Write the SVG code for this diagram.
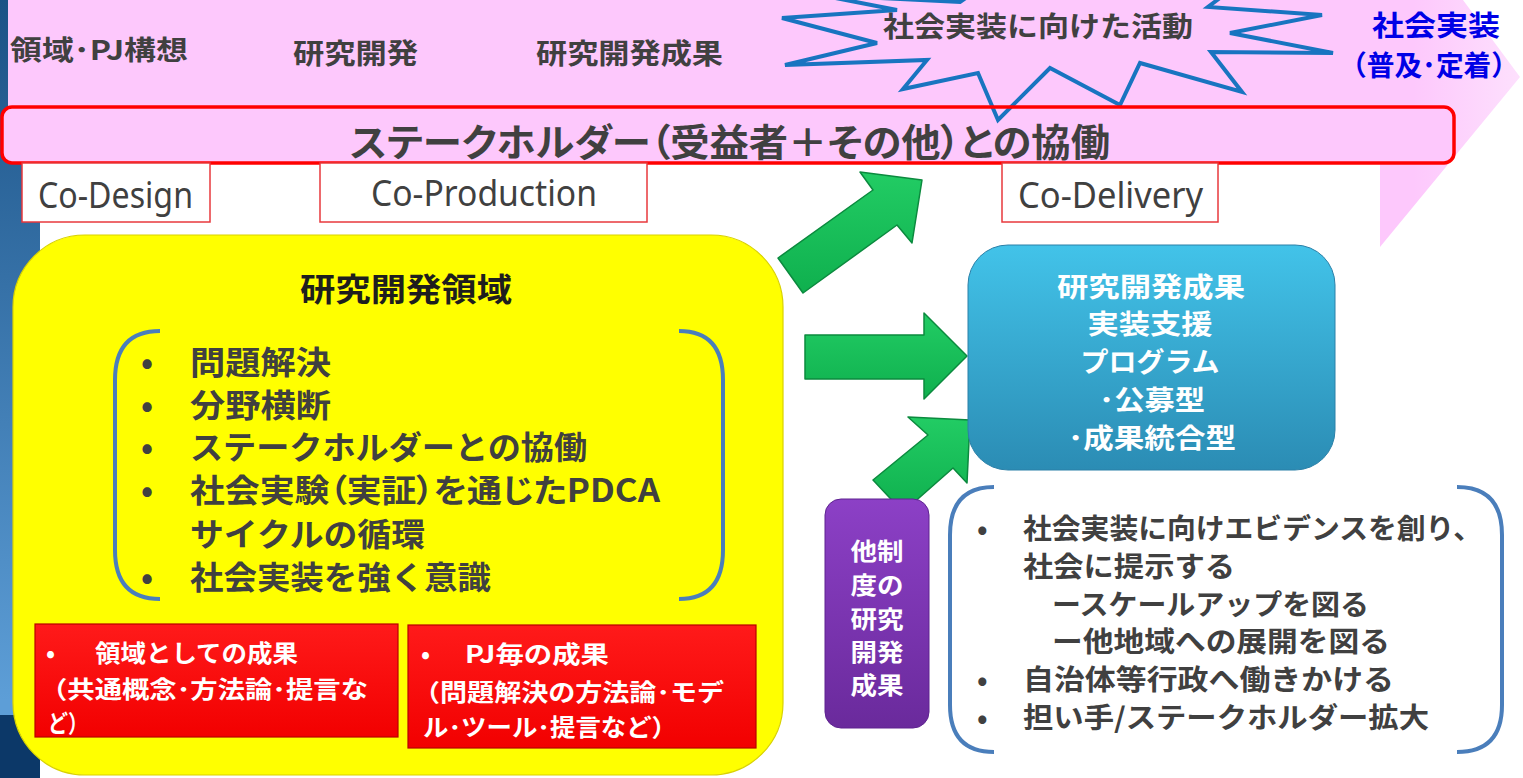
<svg xmlns="http://www.w3.org/2000/svg" width="1523" height="778" viewBox="0 0 1523 778">
<defs>
<linearGradient id="stripe" x1="0" y1="0" x2="0" y2="1">
<stop offset="0" stop-color="#1b5286"/>
<stop offset="0.9" stop-color="#5d9ed7"/>
</linearGradient>
<linearGradient id="blueBox" x1="0" y1="0" x2="0" y2="1">
<stop offset="0" stop-color="#42c3e9"/>
<stop offset="1" stop-color="#2b8cb4"/>
</linearGradient>
<linearGradient id="purple" x1="0" y1="0" x2="0" y2="1">
<stop offset="0" stop-color="#8c40c6"/>
<stop offset="1" stop-color="#6a2a9c"/>
</linearGradient>
<linearGradient id="green" x1="0" y1="0" x2="0" y2="1">
<stop offset="0" stop-color="#22cc64"/>
<stop offset="1" stop-color="#0fb04e"/>
</linearGradient>
<linearGradient id="red" x1="0" y1="0" x2="0" y2="1">
<stop offset="0" stop-color="#ff1a1a"/>
<stop offset="1" stop-color="#f20000"/>
</linearGradient>
<linearGradient id="pinkFade" x1="0" y1="0" x2="1" y2="0">
<stop offset="0" stop-color="#fdc8fc"/>
<stop offset="0.93" stop-color="#fdc8fc"/>
<stop offset="1" stop-color="#fde0fd"/>
</linearGradient>
<style>
.jp{font-family:"Noto Sans CJK JP","Noto Sans CJK SC",sans-serif;font-weight:bold;dominant-baseline:central}
.palt{font-feature-settings:"palt"}
.gray{fill:#404040}
.white{fill:#ffffff}
.co{font-family:"Noto Sans","Liberation Sans",sans-serif;font-size:36px;fill:#404040;dominant-baseline:central}
.cobox{fill:#ffffff;stroke:#e8383d;stroke-width:1.5}
.bracket{fill:none;stroke:#4a7ebb;stroke-width:4}
.arrow{fill:url(#green);stroke:#0b8a3e;stroke-width:1.5;stroke-linejoin:round}
.redbox{fill:url(#red);stroke:#b80000;stroke-width:1.2}
</style>
</defs>
<rect x="0" y="0" width="1523" height="778" fill="#ffffff"/>
<rect x="0" y="0" width="40" height="778" fill="url(#stripe)"/>
<rect x="0" y="715" width="40" height="63" fill="#0c3868"/>
<path d="M8,0 L1463,0 L1520,77 L1380,247 L1380,160 L8,160 Z" fill="url(#pinkFade)"/>
<g id="top-labels">
<text class="jp gray" x="10" y="48" font-size="27" textLength="178" lengthAdjust="spacingAndGlyphs">領域･PJ構想</text>
<text class="jp gray" x="293" y="52" font-size="28" textLength="125" lengthAdjust="spacingAndGlyphs">研究開発</text>
<text class="jp gray" x="536" y="52" font-size="28" textLength="187" lengthAdjust="spacingAndGlyphs">研究開発成果</text>
</g>
<g id="stakeholder-bar">
<rect x="2" y="107" width="1452" height="56" rx="10" fill="#fdc8fc"/>
</g>
<g id="starburst">
<polygon points="782,18 897,10 820,-5 960,2 1020,-40 1090,-8 1250,-25 1208,7 1322,15 1230,33 1333,53 1211,52 1242,92 1140,63 1120,105 1050,68 998,120 978,73 903,89 927,60 785,65 877,43" fill="#fdc8fc" stroke="#1874c0" stroke-width="4" stroke-linejoin="miter"/>
<text class="jp gray" x="883" y="25" font-size="28" textLength="310" lengthAdjust="spacingAndGlyphs">社会実装に向けた活動</text>
</g>
<g id="stakeholder-bar-front">
<rect x="2" y="107" width="1452" height="56" rx="10" fill="none" stroke="#ff0000" stroke-width="3.5"/>
<text class="jp gray palt" x="350" y="139" font-size="38" textLength="760" lengthAdjust="spacingAndGlyphs">ステークホルダー（受益者＋その他）との協働</text>
</g>
<g id="social-impl">
<text class="jp" fill="#0000e6" x="1372" y="24" font-size="28" textLength="128" lengthAdjust="spacingAndGlyphs">社会実装</text>
<text class="jp" fill="#0000e6" x="1339" y="64" font-size="28" textLength="180" lengthAdjust="spacingAndGlyphs">（普及･定着）</text>
</g>
<g id="co-design">
<rect class="cobox" x="22" y="163" width="188" height="59"/>
<text class="co" x="38" y="194" textLength="155" lengthAdjust="spacingAndGlyphs">Co-Design</text>
</g>
<g id="co-production">
<rect class="cobox" x="320" y="163" width="327" height="59"/>
<text class="co" x="371" y="192" textLength="226" lengthAdjust="spacingAndGlyphs">Co-Production</text>
</g>
<g id="co-delivery">
<rect class="cobox" x="1002" y="163" width="216" height="59"/>
<text class="co" x="1018" y="194" textLength="185" lengthAdjust="spacingAndGlyphs">Co-Delivery</text>
</g>
<g id="rd-domain">
<rect x="13" y="235" width="770" height="540" rx="72" fill="#ffff00" stroke="#d9d200" stroke-width="1.2"/>
<text class="jp" fill="#1e1e1e" x="300" y="287" font-size="32" textLength="212" lengthAdjust="spacingAndGlyphs">研究開発領域</text>
<path class="bracket" d="M160,331 Q115,331 115,380 L115,550 Q115,599 160,599"/>
<path class="bracket" d="M679,331 Q723,331 723,380 L723,550 Q723,599 679,599"/>
<g class="jp gray" font-size="32">
<text x="141" y="360">•</text>
<text x="190" y="360" textLength="141" lengthAdjust="spacingAndGlyphs">問題解決</text>
<text x="141" y="403">•</text>
<text x="190" y="403" textLength="141" lengthAdjust="spacingAndGlyphs">分野横断</text>
<text x="141" y="445">•</text>
<text x="190" y="445" textLength="397" lengthAdjust="spacingAndGlyphs">ステークホルダーとの協働</text>
<text x="141" y="488">•</text>
<text class="palt" x="190" y="488" textLength="470" lengthAdjust="spacingAndGlyphs">社会実験（実証）を通じたPDCA</text>
<text x="190" y="532" textLength="235" lengthAdjust="spacingAndGlyphs">サイクルの循環</text>
<text x="141" y="575">•</text>
<text x="190" y="575" textLength="301" lengthAdjust="spacingAndGlyphs">社会実装を強く意識</text>
</g>
</g>
<g id="domain-results">
<rect class="redbox" x="35" y="624" width="363" height="113"/>
<g class="jp white" font-size="24">
<text x="46" y="651">•</text>
<text x="95" y="651" textLength="203" lengthAdjust="spacingAndGlyphs">領域としての成果</text>
<text x="40" y="687" textLength="328" lengthAdjust="spacingAndGlyphs">（共通概念･方法論･提言な</text>
<text x="48" y="721" textLength="40" lengthAdjust="spacingAndGlyphs">ど）</text>
</g>
</g>
<g id="pj-results">
<rect class="redbox" x="408" y="625" width="348" height="123"/>
<g class="jp white" font-size="24">
<text x="421" y="652">•</text>
<text x="465" y="652" textLength="144" lengthAdjust="spacingAndGlyphs">PJ毎の成果</text>
<text x="413" y="690" textLength="311" lengthAdjust="spacingAndGlyphs">（問題解決の方法論･モデ</text>
<text x="423" y="725" textLength="254" lengthAdjust="spacingAndGlyphs">ル･ツール･提言など）</text>
</g>
</g>
<g id="connectors">
<polygon class="arrow" points="778,258 873,190 860,172 922,180 912,243 897,225 803,293"/>
<polygon class="arrow" points="805,335 924,335 924,313 967,356 924,399 924,379 805,379"/>
<polygon class="arrow" points="873,480 928,435 908,417 970,420 967,483 953,468 903,512"/>
</g>
<g id="support-program">
<rect x="968" y="245" width="367" height="225" rx="40" fill="url(#blueBox)" stroke="#2a80a8" stroke-width="1"/>
<g class="jp white" font-size="27" text-anchor="middle">
<text x="1151" y="285" textLength="188" lengthAdjust="spacingAndGlyphs">研究開発成果</text>
<text x="1150" y="322" textLength="125" lengthAdjust="spacingAndGlyphs">実装支援</text>
<text x="1150" y="360" textLength="139" lengthAdjust="spacingAndGlyphs">プログラム</text>
<text x="1152" y="398" textLength="106" lengthAdjust="spacingAndGlyphs">･公募型</text>
<text x="1152" y="436" textLength="168" lengthAdjust="spacingAndGlyphs">･成果統合型</text>
</g>
</g>
<g id="other-results">
<rect x="825" y="499" width="104" height="229" rx="16" fill="url(#purple)" stroke="#5e2390" stroke-width="1"/>
<g class="jp white" font-size="24" text-anchor="middle">
<text x="877" y="549" textLength="53" lengthAdjust="spacingAndGlyphs">他制</text>
<text x="877" y="583" textLength="53" lengthAdjust="spacingAndGlyphs">度の</text>
<text x="877" y="617" textLength="53" lengthAdjust="spacingAndGlyphs">研究</text>
<text x="877" y="650" textLength="53" lengthAdjust="spacingAndGlyphs">開発</text>
<text x="877" y="683" textLength="53" lengthAdjust="spacingAndGlyphs">成果</text>
</g>
</g>
<g id="evidence">
<path class="bracket" d="M994,487 Q950,487 950,535 L950,705 Q950,752 994,752"/>
<path class="bracket" d="M1457,487 Q1502,487 1502,535 L1502,705 Q1502,752 1457,752"/>
<g class="jp gray" font-size="28">
<text x="977" y="527">•</text>
<text x="1023" y="527" textLength="459" lengthAdjust="spacingAndGlyphs">社会実装に向けエビデンスを創り、</text>
<text x="1023" y="565" textLength="212" lengthAdjust="spacingAndGlyphs">社会に提示する</text>
<text x="1052" y="603" textLength="317" lengthAdjust="spacingAndGlyphs">ースケールアップを図る</text>
<text x="1052" y="640" textLength="338" lengthAdjust="spacingAndGlyphs">ー他地域への展開を図る</text>
<text x="977" y="678">•</text>
<text x="1023" y="678" textLength="371" lengthAdjust="spacingAndGlyphs">自治体等行政へ働きかける</text>
<text x="977" y="716">•</text>
<text x="1023" y="716" textLength="406" lengthAdjust="spacingAndGlyphs">担い手/ステークホルダー拡大</text>
</g>
</g>
</svg>
